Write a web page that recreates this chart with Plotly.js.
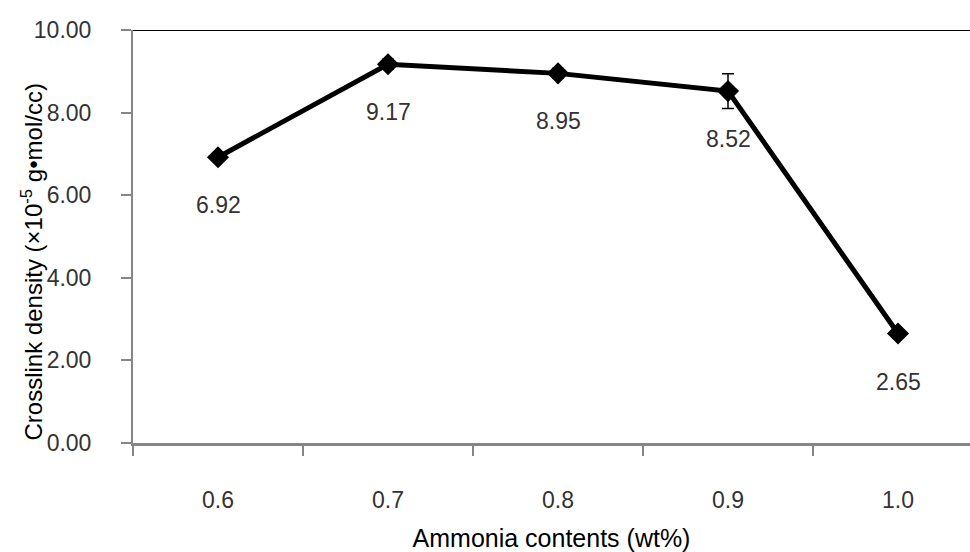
<!DOCTYPE html>
<html>
<head>
<meta charset="utf-8">
<script src="https://cdn.plot.ly/plotly-3.0.1.min.js"></script>
<style>html,body{margin:0;padding:0;background:#fff;}#chart{width:970px;height:552px;}</style>
</head>
<body>
<div id="chart"></div>
<script>
var categories = ["0.6", "0.7", "0.8", "0.9", "1.0"];
var crosslinkDensity = [6.92, 9.17, 8.95, 8.52, 2.65];
var errorValues = [0.05, 0.12, 0.12, 0.42, 0.05];
var yTickValues = [0, 2, 4, 6, 8, 10];

var FONT = "Liberation Sans, Arial, sans-serif";
var TXT = "#333333";

var trace = {
  x: categories,
  y: crosslinkDensity,
  type: "scatter",
  mode: "lines+markers",
  line: {color: "#000", width: 5},
  marker: {symbol: "diamond", size: 17, color: "#000"},
  error_y: {type: "data", array: errorValues, visible: true, color: "#000", thickness: 1.5, width: 6},
  hoverinfo: "x+y",
  cliponaxis: false
};

var annotations = categories.map(function (c, i) {
  return {
    x: i, y: crosslinkDensity[i], xref: "x", yref: "y",
    text: crosslinkDensity[i].toFixed(2),
    showarrow: false, yshift: -48,
    font: {family: FONT, size: 23, color: TXT}
  };
});
annotations.push({
  xref: "paper", yref: "paper", x: 0, y: 0.5, xshift: -102, yshift: -26,
  xanchor: "center", yanchor: "middle", textangle: -90,
  text: "Crosslink density (×10<sup>-5</sup> g•mol/cc)",
  showarrow: false,
  font: {family: FONT, size: 24, color: "#000"}
});

var layout = {
  width: 970, height: 552,
  margin: {l: 133, r: 0, t: 30, b: 109},
  paper_bgcolor: "#fff", plot_bgcolor: "#fff",
  showlegend: false,
  xaxis: {
    type: "category",
    range: [-0.5, 4.4235],
    tickson: "boundaries",
    ticks: "outside", ticklen: 10, tickwidth: 2, tickcolor: "#868686",
    showline: true, linecolor: "#868686", linewidth: 3,
    showgrid: false, zeroline: false,
    ticklabelstandoff: 34,
    tickfont: {family: FONT, size: 23, color: TXT},
    title: {text: "Ammonia contents (wt%)", font: {family: FONT, size: 25, color: "#000"}, standoff: 22}
  },
  yaxis: {
    range: [0, 10],
    tickvals: yTickValues,
    tickformat: ".2f",
    ticks: "outside", ticklen: 10, tickwidth: 2, tickcolor: "#868686",
    showline: true, linecolor: "#868686", linewidth: 2,
    showgrid: false, zeroline: false,
    ticklabelstandoff: 25,
    tickfont: {family: FONT, size: 23, color: TXT}
  },
  shapes: [{
    type: "line", xref: "paper", yref: "y", x0: 0, x1: 1, y0: 10, y1: 10,
    line: {color: "#000", width: 2}
  }],
  annotations: annotations
};

Plotly.newPlot("chart", [trace], layout, {displayModeBar: false, staticPlot: true});
</script>
</body>
</html>
